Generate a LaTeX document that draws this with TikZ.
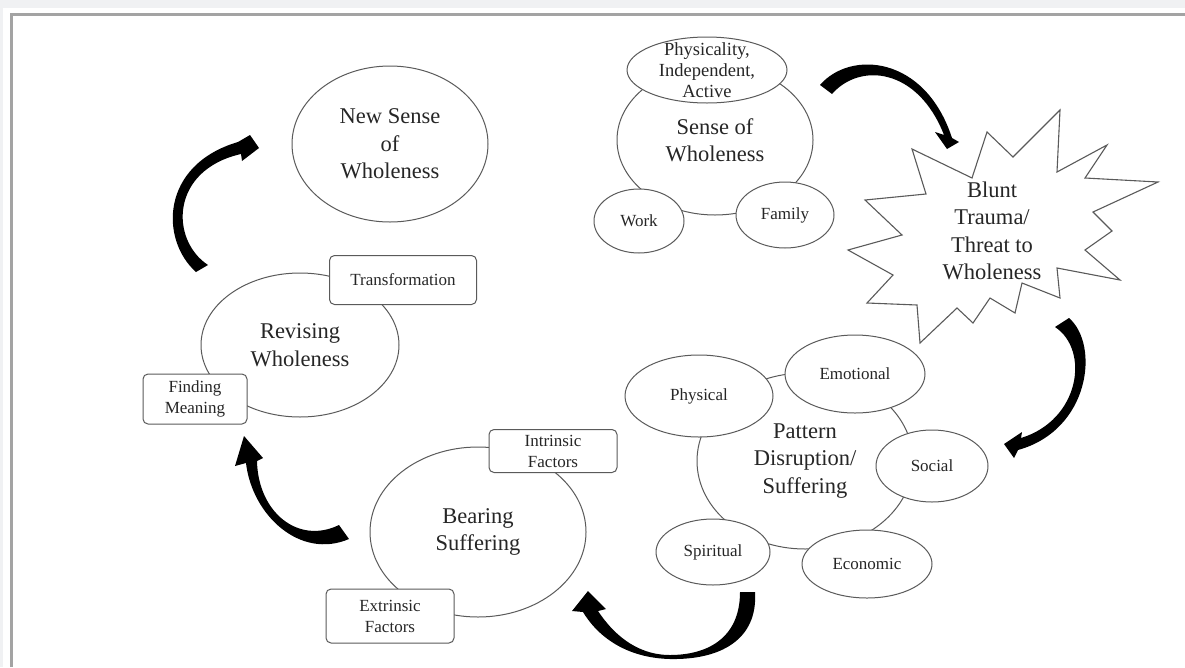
\documentclass[tikz,border=0pt]{standalone}
\usepackage{fontspec}
\setmainfont{Liberation Serif}
\usetikzlibrary{shapes.geometric}
\definecolor{pagegray}{HTML}{F0F1F3}
\definecolor{framegray}{HTML}{A3A3A3}
\definecolor{inkgray}{HTML}{5A5A5A}
\begin{document}
\begin{tikzpicture}[x=1pt,y=-1pt,
  shapeline/.style={draw=inkgray, line width=1pt},
  bigell/.style={ellipse, shapeline, fill=white, inner sep=0pt, align=center,
    font=\fontsize{22.5}{27.5}\selectfont, text=black!85},
  smallell/.style={ellipse, shapeline, fill=white, inner sep=0pt, align=center,
    font=\fontsize{17}{21}\selectfont, text=black!85},
  factorbox/.style={rectangle, rounded corners=5pt, shapeline, fill=white, inner sep=0pt,
    align=center, font=\fontsize{17}{21}\selectfont, text=black!85},
  bigtext/.style={inner sep=0pt, align=center, font=\fontsize{22.5}{27.5}\selectfont, text=black!85},
  smalltext/.style={inner sep=0pt, align=center, font=\fontsize{18.5}{21}\selectfont, text=black!85},
  burst/.style={draw=inkgray, line width=1.1pt, fill=white, line join=miter},
  arrowfill/.style={fill=black}
]
\useasboundingbox (0,0) rectangle (1185,667);
\fill[pagegray] (0,0) rectangle (1185,667);
\fill[white] (3,8) rectangle (1185,667);
\draw[framegray, line width=3pt] (11,667) -- (11,14) -- (1185,14);

% ---- New sense of wholeness
\node[bigell, minimum width=196pt, minimum height=156pt] (newsense) at (390,144) {New Sense\\of\\Wholeness};

% ---- Sense of wholeness
\node[bigell, minimum width=196pt, minimum height=150pt] (sense) at (715,140) {Sense of\\Wholeness};
\node[smallell, minimum width=160pt, minimum height=66pt] (phys) at (707,70) {};
\node[smalltext] (physt) at (phys.center) {Physicality,\\Independent,\\Active};
\node[smallell, minimum width=90pt, minimum height=64pt] (work) at (639,221) {Work};
\node[smallell, minimum width=98pt, minimum height=66pt] (family) at (785,215) {Family};

% ---- Blunt trauma starburst
\draw[burst] (912,149) -- (972,178) -- (987,132) -- (1013,157) -- (1060,110) -- (1057,172)
  -- (1107,145) -- (1085,178) -- (1158,182) -- (1093,212) -- (1112,231) -- (1085,250)
  -- (1120,280) -- (1057,268) -- (1060,298) -- (1022,283) -- (1015,313) -- (990,298)
  -- (973,323) -- (957,308) -- (920,343) -- (917,305) -- (867,303) -- (893,275)
  -- (848,250) -- (902,235) -- (865,200) -- (926,194) -- cycle;
\node[bigtext] (blunt) at (992,231) {Blunt\\Trauma/\\Threat to\\Wholeness};

% ---- Pattern disruption
\node[bigell, minimum width=216pt, minimum height=176pt] (pattern) at (805,461) {Pattern\\Disruption/\\Suffering};
\node[smallell, minimum width=148pt, minimum height=82pt] (physical) at (699,396) {Physical};
\node[smallell, minimum width=140pt, minimum height=78pt] (emotional) at (855,374) {Emotional};
\node[smallell, minimum width=112pt, minimum height=72pt] (social) at (932,466) {Social};
\node[smallell, minimum width=114pt, minimum height=66pt] (spiritual) at (713,552) {Spiritual};
\node[smallell, minimum width=130pt, minimum height=68pt] (economic) at (867,564) {Economic};

% ---- Bearing suffering
\node[bigell, minimum width=216pt, minimum height=170pt] (bearing) at (478,532) {Bearing\\Suffering};
\node[factorbox, minimum width=128pt, minimum height=43pt] (intrinsic) at (553,451) {Intrinsic\\Factors};
\node[factorbox, minimum width=128pt, minimum height=54pt] (extrinsic) at (390,616) {Extrinsic\\Factors};

% ---- Revising wholeness
\node[bigell, minimum width=198pt, minimum height=144pt] (revising) at (300,345) {Revising\\Wholeness};
\node[factorbox, minimum width=147pt, minimum height=49pt] (transf) at (403,280) {Transformation};
\node[factorbox, minimum width=104pt, minimum height=50pt] (finding) at (195,399) {Finding\\Meaning};

% ---- Curved block arrows
% Revising -> New sense
\fill[arrowfill] (196,272) .. controls (160,240) and (160,165) .. (238,142)
  -- (250,135) -- (259,148) -- (242,161) -- (241,154)
  .. controls (170,170) and (170,240) .. (208,265) -- cycle;
% Sense -> Blunt trauma
\fill[arrowfill] (820,85) .. controls (850,50) and (925,55) .. (952,138)
  -- (959,142) -- (947,149) -- (935,132) -- (944,135)
  .. controls (918,68) and (860,62) .. (832,94) -- cycle;
% Blunt trauma -> Pattern
\fill[arrowfill] (1069,318) .. controls (1100,345) and (1090,430) .. (1018,450)
  -- (1014,458) -- (1004,444) -- (1022,432) -- (1021,438)
  .. controls (1080,420) and (1090,350) .. (1055,327) -- cycle;
% Pattern -> Bearing
\fill[arrowfill] (755,592) .. controls (758,640) and (720,660) .. (670,659)
  .. controls (630,658) and (600,640) .. (583,612)
  -- (572,611) -- (588,591) -- (606,609) -- (598,611)
  .. controls (612,632) and (635,655) .. (670,655)
  .. controls (705,655) and (740,640) .. (740,592) -- cycle;
% Bearing -> Revising
\fill[arrowfill] (349,539) .. controls (300,560) and (252,515) .. (246,463)
  -- (235,466) -- (244,436) -- (263,458) -- (257,461)
  .. controls (258,512) and (298,545) .. (339,525) -- cycle;
\end{tikzpicture}
\end{document}
